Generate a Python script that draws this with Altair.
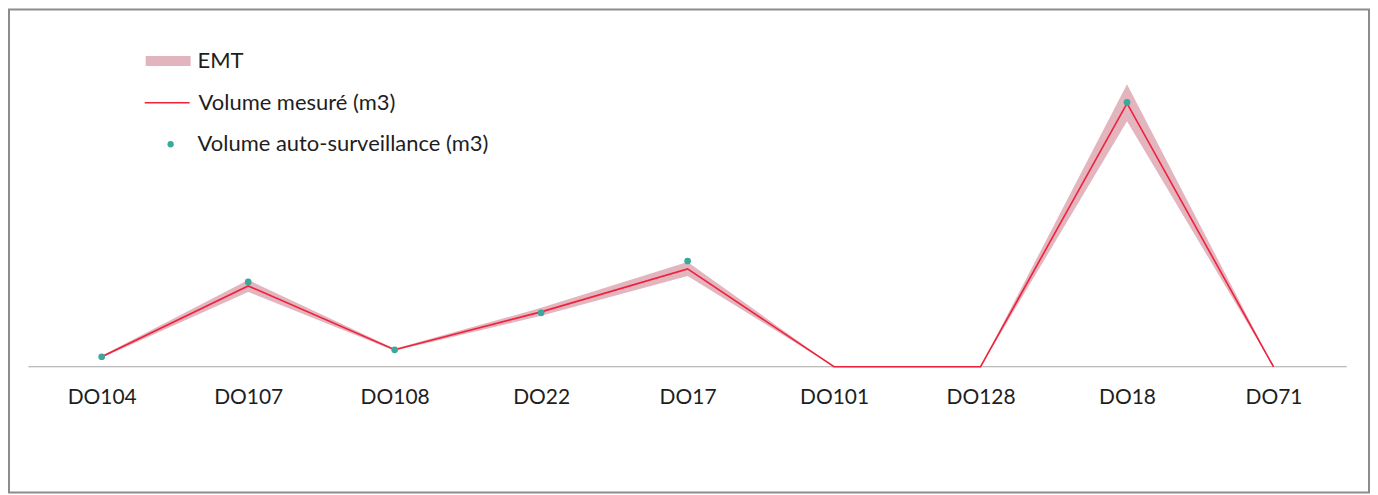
import altair as alt
import pandas as pd

categories = ["DO104", "DO107", "DO108", "DO22", "DO17", "DO101", "DO128", "DO18", "DO71"]
volume_mesure = [10, 81, 17, 55, 98, 0, 0, 264, 0]
volume_auto = [10, 85, 17, 54, 106, None, None, 265, None]
emt_low = [9, 75, 16, 51, 91, 0, 0, 246, 0]
emt_high = [11, 87, 18, 59, 105, 0, 0, 283, 0]

n = len(categories)
df = pd.DataFrame({
    "idx": list(range(n)),
    "cat": categories,
    "mesure": volume_mesure,
    "auto": volume_auto,
    "low": emt_low,
    "high": emt_high,
})
df["s_emt"] = "EMT"
df["s_mes"] = "Volume mesuré (m3)"
df["s_auto"] = "Volume auto-surveillance (m3)"

PINK = "#DCA3AF"
RED = "#F0213A"
TEAL = "#3AA89A"
FONT = "Lato"
TXT = "#1E1E1E"

label_expr = "[" + ",".join("'" + c + "'" for c in categories) + "][datum.value]"

xscale = alt.Scale(domain=[-0.633, 8.652], nice=False, zero=False)
yscale = alt.Scale(domain=[-126, 358], nice=False, zero=False)

x_axis = alt.Axis(values=list(range(n)), labelExpr=label_expr,
                  title=None, domain=False, ticks=False, tickSize=0, grid=False,
                  offset=-126, labelPadding=20, labelFontSize=21, labelFont=FONT,
                  labelColor=TXT)
x_enc = alt.X("idx:Q", scale=xscale, axis=x_axis)

base = alt.Chart(df)

baseline = base.transform_filter("datum.idx == 0").transform_calculate(
    x0="-0.5", x1=str(n - 0.5), y0="0"
).mark_rule(color="#A6A6A6", strokeWidth=1.2).encode(
    x=alt.X("x0:Q", scale=xscale, axis=x_axis), x2="x1:Q",
    y=alt.Y("y0:Q", scale=yscale, axis=None),
)

def leg(x, y, stype, ssize, offset, **kw):
    return alt.Legend(title=None, orient="none", legendX=x, legendY=y,
                      symbolType=stype, symbolSize=ssize,
                      labelFontSize=22, labelFont=FONT, labelColor=TXT,
                      labelOffset=offset, labelLimit=500, padding=0, **kw)

band = base.mark_area(opacity=0.8).encode(
    x=x_enc,
    y=alt.Y("low:Q", scale=yscale, axis=None),
    y2="high:Q",
    color=alt.Color("s_emt:N", scale=alt.Scale(domain=["EMT"], range=[PINK]),
                    legend=leg(132, 24, "stroke", 2025, 2,
                               symbolStrokeWidth=10, symbolStrokeColor=PINK)),
)

line = base.mark_line(strokeWidth=1.6).encode(
    x=x_enc,
    y=alt.Y("mesure:Q", scale=yscale, axis=None),
    color=alt.Color("s_mes:N", scale=alt.Scale(domain=["Volume mesuré (m3)"], range=[RED]),
                    legend=leg(135, 70, "stroke", 2025, 8, symbolStrokeWidth=1.5)),
)

points = base.transform_filter("isValid(datum.auto)").mark_point(
    filled=True, size=45, opacity=1
).encode(
    x=x_enc,
    y=alt.Y("auto:Q", scale=yscale, axis=None),
    color=alt.Color("s_auto:N",
                    scale=alt.Scale(domain=["Volume auto-surveillance (m3)"], range=[TEAL]),
                    legend=leg(151, 124, "circle", 40, 16)),
)

chart = alt.layer(baseline, band, line, points).resolve_scale(color="independent").properties(
    width=1363, height=484, padding=1, background="white",
    autosize=alt.AutoSizeParams(type="none"),
).configure_view(stroke="#8C8C8C", strokeWidth=2)

chart.save("out.html", embed_options={"renderer": "svg", "actions": False})
